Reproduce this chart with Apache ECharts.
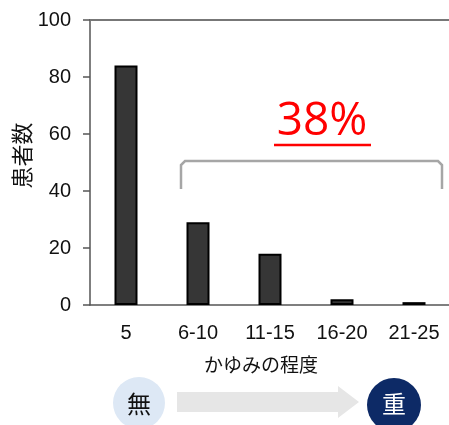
<!DOCTYPE html>
<html>
<head>
<meta charset="utf-8">
<script src="https://cdn.jsdelivr.net/npm/echarts@6/dist/echarts.min.js"></script>
<style>
  html, body { margin: 0; padding: 0; background: #fff; }
  #chart { width: 449px; height: 425px; }
</style>
</head>
<body>
<div id="chart"></div>
<script>
const categories = ['5', '6-10', '11-15', '16-20', '21-25']
const patients = [84, 29, 18, 2, 1]
const yTicks = [0, 20, 40, 60, 80, 100]
const shareLabel = '38%'

const jpFont = '"Noto Sans CJK JP", sans-serif'
const numFont = '"Liberation Sans", Arial, sans-serif'

const chart = echarts.init(document.getElementById('chart'), null, {renderer: 'canvas'})

chart.setOption({
  animation: false,
  grid: {left: 90, top: 20, width: 360, height: 285, containLabel: false, outerBoundsMode: 'none'},
  xAxis: [{
    type: 'category',
    data: categories,
    name: 'かゆみの程度',
    nameLocation: 'middle',
    nameGap: 50,
    nameMoveOverlap: false,
    nameTextStyle: {fontFamily: jpFont, fontSize: 19, color: '#111', padding: [0, 18, 0, 0]},
    axisLine: {lineStyle: {color: '#555', width: 1.5}},
    axisTick: {show: false},
    axisLabel: {margin: 18, fontFamily: numFont, fontSize: 20, color: '#111'}
  }, {
    type: 'category',
    position: 'top',
    data: categories,
    axisLine: {lineStyle: {color: '#777', width: 2}},
    axisTick: {show: false},
    axisLabel: {show: false}
  }],
  yAxis: {
    type: 'value',
    min: yTicks[0],
    max: yTicks[yTicks.length - 1],
    interval: 20,
    name: '患者数',
    nameLocation: 'middle',
    nameRotate: 90,
    nameGap: 57,
    nameMoveOverlap: false,
    nameTextStyle: {fontFamily: jpFont, fontSize: 22, color: '#111', padding: [0, 0, 0, 14]},
    axisLine: {show: true, lineStyle: {color: '#555', width: 1.5}},
    axisTick: {show: true, inside: false, length: 7, lineStyle: {color: '#555', width: 1.5}},
    axisLabel: {margin: 19, fontFamily: numFont, fontSize: 20, color: '#111'},
    splitLine: {show: false}
  },
  series: [{
    type: 'bar',
    data: patients,
    barWidth: 23,
    itemStyle: {color: '#363636', borderColor: '#000', borderWidth: 2}
  }],
  graphic: [
    // bracket over 6-25
    {
      type: 'polyline',
      shape: {points: [[181, 189], [181, 165], [185, 161], [438, 161], [442, 165], [442, 189]]},
      style: {stroke: '#a6a6a6', lineWidth: 2.5, fill: null}
    },
    {
      type: 'text',
      x: 322, y: 122,
      style: {text: shareLabel, fill: '#ff0000', font: '46px "Open Sans", "Noto Sans", sans-serif',
        textAlign: 'center', textVerticalAlign: 'middle'}
    },
    {
      type: 'line',
      shape: {x1: 274, y1: 145, x2: 371, y2: 145},
      style: {stroke: '#ff0000', lineWidth: 2.5}
    },
    // severity arrow
    {
      type: 'polygon',
      shape: {points: [[177, 392], [338, 392], [338, 386], [359, 402], [338, 418], [338, 412], [177, 412]]},
      style: {fill: '#e6e6e6'}
    },
    {
      type: 'circle',
      shape: {cx: 139, cy: 403, r: 26},
      style: {fill: '#dde8f5'}
    },
    {
      type: 'text',
      x: 139, y: 404,
      style: {text: '無', fill: '#111', font: '24px ' + jpFont, textAlign: 'center', textVerticalAlign: 'middle'}
    },
    {
      type: 'circle',
      shape: {cx: 394, cy: 405, r: 27},
      style: {fill: '#0d2a66'}
    },
    {
      type: 'text',
      x: 394, y: 404,
      style: {text: '重', fill: '#fff', font: '24px ' + jpFont, textAlign: 'center', textVerticalAlign: 'middle'}
    }
  ]
})
</script>
</body>
</html>
